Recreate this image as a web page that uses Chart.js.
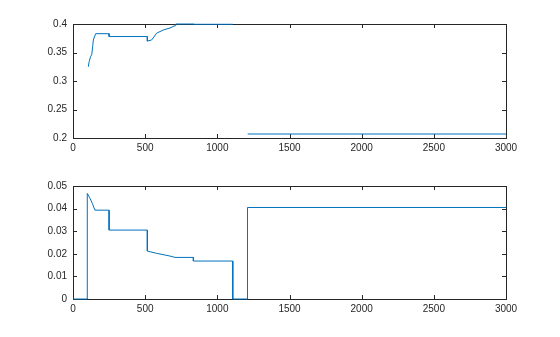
<!DOCTYPE html>
<html>
<head>
<meta charset="utf-8">
<script src="https://cdn.jsdelivr.net/npm/chart.js@4"></script>
<style>
  body { margin: 0; background: #ffffff; }
  .wrap { position: relative; width: 560px; height: 337px; }
  canvas { position: absolute; left: 0; }
</style>
</head>
<body>
<div class="wrap">
  <canvas id="top_chart" width="560" height="168" style="top:0"></canvas>
  <canvas id="bottom_chart" width="560" height="169" style="top:168px"></canvas>
</div>
<script>
// 위쪽 그래프 데이터 (null = 빈 구간)
var topX = [106, 112, 122, 130, 136, 141, 157, 250, 250, 515, 515, 545, 580, 626, 672, 707, 712, 840, 840, 1107, 1150, 1210, 3000];
var topY = [0.325, 0.334, 0.343, 0.346, 0.360, 0.372, 0.383, 0.383, 0.378, 0.378, 0.370, 0.372, 0.384, 0.3895, 0.393, 0.397, 0.4, 0.4, 0.3995, 0.3995, null, 0.207, 0.207];

// 아래쪽 그래프 데이터
var botX = [0, 99, 99, 118, 134, 152, 250, 250, 515, 515, 580, 672, 707, 834, 834, 1107, 1107, 1209, 1209, 3000];
var botY = [0, 0, 0.0467, 0.0445, 0.0423, 0.0393, 0.0393, 0.0305, 0.0305, 0.0212, 0.0202, 0.019, 0.0184, 0.0184, 0.0168, 0.0168, 0, 0, 0.0405, 0.0405];

var xTicks = [0, 500, 1000, 1500, 2000, 2500, 3000];
var topTicks = [0.2, 0.25, 0.3, 0.35, 0.4];
var botTicks = [0, 0.01, 0.02, 0.03, 0.04, 0.05];

var axisColor = '#262626';
var lineColor = '#0072BD';
var fontSet = { family: "'Liberation Sans', Arial, sans-serif", size: 10 };

// 박스와 안쪽 눈금 그리기 (데이터 라인보다 먼저)
var boxPlugin = {
	id: 'matlabBox',
	beforeDatasetsDraw(chart) {
		var ctx = chart.ctx;
		var a = chart.chartArea;
		var xs = chart.scales.x;
		var ys = chart.scales.y;
		var len = 4;
		ctx.save();
		ctx.strokeStyle = axisColor;
		ctx.lineWidth = 1;
		ctx.beginPath();
		xs.ticks.forEach(t => {
			var px = Math.round(xs.getPixelForValue(t.value)) + 0.5;
			ctx.moveTo(px, a.bottom); ctx.lineTo(px, a.bottom - len);
			ctx.moveTo(px, a.top); ctx.lineTo(px, a.top + len);
		});
		ys.ticks.forEach(t => {
			var py = Math.round(ys.getPixelForValue(t.value)) + 0.5;
			ctx.moveTo(a.left, py); ctx.lineTo(a.left + len, py);
			ctx.moveTo(a.right, py); ctx.lineTo(a.right - len, py);
		});
		ctx.stroke();
		ctx.strokeRect(Math.round(a.left) + 0.5, Math.round(a.top) + 0.5,
			Math.round(a.right - a.left), Math.round(a.bottom - a.top));
		ctx.restore();
	}
};

function makeChart(id, xs, ys, yMin, yMax, yTicks, padTop, xHeight) {
	var pts = xs.map((x, i) => ({ x: x, y: ys[i] }));
	return new Chart(document.getElementById(id), {
		type: 'line',
		data: {
			datasets: [{
				data: pts,
				borderColor: lineColor,
				borderWidth: 1,
				pointRadius: 0,
				fill: false,
				tension: 0,
				spanGaps: false,
				clip: 2
			}]
		},
		options: {
			responsive: false,
			animation: false,
			plugins: { legend: { display: false }, tooltip: { enabled: false } },
			layout: { padding: { top: padTop, right: 54, left: 0, bottom: 0 } },
			scales: {
				x: {
					type: 'linear',
					min: 0,
					max: 3000,
					afterBuildTicks: s => { s.ticks = xTicks.map(v => ({ value: v })); },
					afterFit: s => { s.height = xHeight; },
					grid: { drawOnChartArea: false, drawTicks: false },
					border: { display: false },
					ticks: {
						font: fontSet, color: axisColor, padding: 4, maxRotation: 0, autoSkip: false,
						callback: v => String(v)
					}
				},
				y: {
					type: 'linear',
					min: yMin,
					max: yMax,
					afterBuildTicks: s => { s.ticks = yTicks.map(v => ({ value: v })); },
					afterFit: s => { s.width = 73; },
					grid: { drawOnChartArea: false, drawTicks: false },
					border: { display: false },
					ticks: {
						font: fontSet, color: axisColor, padding: 6,
						callback: v => String(+v.toFixed(3))
					}
				}
			}
		},
		plugins: [boxPlugin]
	});
}

makeChart('top_chart', topX, topY, 0.2, 0.4, topTicks, 24, 30);
makeChart('bottom_chart', botX, botY, 0, 0.05, botTicks, 18, 38);
</script>
</body>
</html>
